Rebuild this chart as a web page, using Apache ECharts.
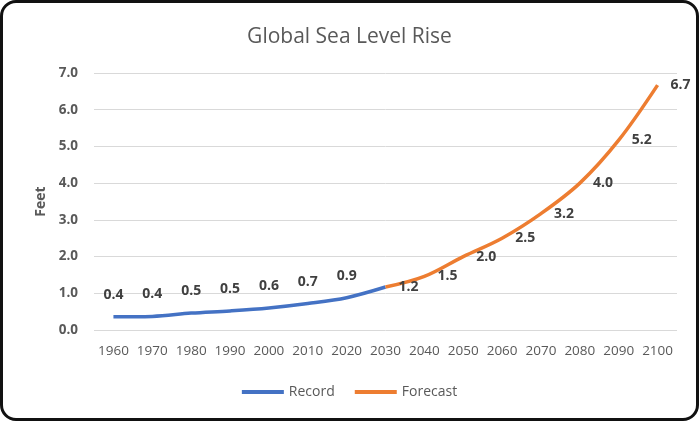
<!DOCTYPE html>
<html>
<head>
<meta charset="UTF-8">
<title>Global Sea Level Rise</title>
<script src="https://cdn.jsdelivr.net/npm/echarts@6/dist/echarts.min.js"></script>
<style>
  html, body { margin: 0; padding: 0; background: #fff; }
  #frame {
    position: absolute; left: 0; top: 0;
    width: 693px; height: 415px;
    border: 3px solid #111; border-radius: 16px;
    background: #fff; overflow: hidden;
  }
  #chart { width: 693px; height: 415px; }
</style>
</head>
<body>
<div id="frame"><div id="chart"></div></div>
<script>
// years on the x axis
var years = ['1960', '1970', '1980', '1990', '2000', '2010', '2020', '2030',
             '2040', '2050', '2060', '2070', '2080', '2090', '2100'];
// recorded sea level (feet), ends at 2030 so it meets the forecast
var record = [0.36, 0.37, 0.46, 0.52, 0.6, 0.72, 0.88, 1.17];
// forecast (feet), starts at 2030
var forecast = [1.17, 1.46, 2.0, 2.5, 3.17, 4.0, 5.17, 6.67];

var recordData = years.map(function (y, i) { return i < record.length ? record[i] : '-'; });
var forecastStart = years.length - forecast.length;
var forecastData = years.map(function (y, i) { return i >= forecastStart ? forecast[i - forecastStart] : '-'; });

var font = 'Open Sans';
var chart = echarts.init(document.getElementById('chart'));
chart.setOption({
  animation: false,
  title: {
    text: 'Global Sea Level Rise',
    left: 'center', top: 19,
    textStyle: { fontFamily: font, fontSize: 21, fontWeight: 'normal', color: '#595959' }
  },
  legend: {
    bottom: 14, left: 'center',
    icon: 'rect', itemWidth: 42, itemHeight: 4, itemGap: 20,
    textStyle: { fontFamily: font, fontSize: 14, color: '#595959' },
    data: ['Record', 'Forecast']
  },
  grid: { left: 91, right: 19, top: 70, bottom: 88 },
  xAxis: {
    type: 'category',
    data: years,
    axisLine: { show: false },
    axisTick: { show: false },
    axisLabel: { interval: 0, fontFamily: font, fontSize: 13.5, color: '#595959', margin: 14 }
  },
  yAxis: {
    type: 'value',
    min: 0, max: 7, interval: 1,
    name: 'Feet', nameLocation: 'middle', nameGap: 45,
    nameTextStyle: { fontFamily: font, fontSize: 14, fontWeight: 'bold', color: '#595959' },
    axisLabel: {
      fontFamily: font, fontSize: 13.5, fontWeight: 'bold', color: '#595959', margin: 16,
      formatter: function (v) { return v.toFixed(1); }
    },
    splitLine: { lineStyle: { color: '#d9d9d9', width: 1 } }
  },
  series: [
    {
      name: 'Record', type: 'line', smooth: 0.35, symbol: 'circle', symbolSize: 0.1,
      data: recordData,
      lineStyle: { color: '#4472C4', width: 3.5 },
      itemStyle: { color: '#4472C4' },
      label: {
        show: true, position: 'top', distance: 15,
        fontFamily: font, fontSize: 14, fontWeight: 'bold', color: '#404040',
        formatter: function (p) { return p.dataIndex < record.length - 1 ? p.value.toFixed(1) : ''; }
      }
    },
    {
      name: 'Forecast', type: 'line', smooth: 0.35, symbol: 'circle', symbolSize: 0.1,
      data: forecastData,
      lineStyle: { color: '#ED7D31', width: 3.5 },
      itemStyle: { color: '#ED7D31' },
      label: {
        show: true, position: 'right', distance: 13,
        fontFamily: font, fontSize: 14, fontWeight: 'bold', color: '#404040',
        formatter: function (p) { return p.value.toFixed(1); }
      }
    }
  ]
});
</script>
</body>
</html>
